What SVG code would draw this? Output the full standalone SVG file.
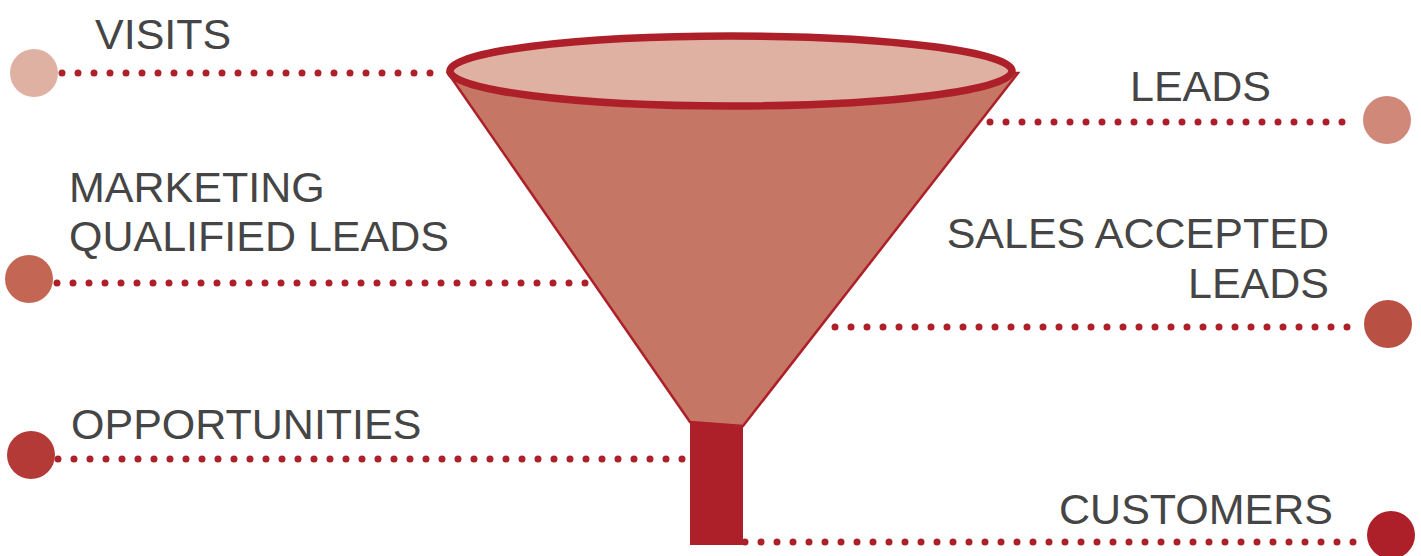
<svg xmlns="http://www.w3.org/2000/svg" width="1421" height="556" viewBox="0 0 1421 556">
<style>
.lbl{font-family:"Liberation Sans",Arial,sans-serif;font-size:43px;fill:#454545}
.dots{stroke:#ae2029;stroke-width:7;stroke-linecap:round;stroke-dasharray:0 16;fill:none}
</style>
<rect width="1421" height="556" fill="#ffffff"/>
<g id="connectors">
<line class="dots" x1="62" y1="73" x2="446" y2="73"/>
<line class="dots" x1="990" y1="122" x2="1358" y2="122"/>
<line class="dots" x1="57" y1="283" x2="590" y2="283"/>
<line class="dots" x1="835" y1="327" x2="1363" y2="327"/>
<line class="dots" x1="58" y1="459" x2="688" y2="459"/>
<line class="dots" x1="745" y1="542" x2="1366" y2="542"/>
</g>
<g id="funnel">
<polygon points="448,73 1018,73 743,426 690,422" fill="#c57665" stroke="#ae2029" stroke-width="2.5" stroke-linejoin="miter"/>
<polygon points="690,422 743,426 743,545 690,545" fill="#ae2029"/>
<ellipse cx="731" cy="71" rx="281" ry="35" fill="#dfb1a2" stroke="#ae2029" stroke-width="7.5"/>
</g>
<g id="visits">
<circle cx="34" cy="73" r="24" fill="#dfb1a2"/>
<text class="lbl" x="95" y="49">VISITS</text>
</g>
<g id="leads">
<circle cx="1387" cy="120" r="24" fill="#d08878"/>
<text class="lbl" x="1271" y="101" text-anchor="end">LEADS</text>
</g>
<g id="mql">
<circle cx="29" cy="279" r="24" fill="#c36653"/>
<text class="lbl" x="69" y="202">MARKETING</text>
<text class="lbl" x="69" y="251">QUALIFIED LEADS</text>
</g>
<g id="sal">
<circle cx="1388" cy="324" r="24" fill="#b85043"/>
<text class="lbl" x="1329" y="248" text-anchor="end">SALES ACCEPTED</text>
<text class="lbl" x="1329" y="298" text-anchor="end">LEADS</text>
</g>
<g id="opportunities">
<circle cx="31" cy="455" r="24" fill="#b43a37"/>
<text class="lbl" x="71" y="439">OPPORTUNITIES</text>
</g>
<g id="customers">
<circle cx="1391" cy="535" r="24" fill="#ae2029"/>
<text class="lbl" x="1333" y="524" text-anchor="end">CUSTOMERS</text>
</g>
</svg>
